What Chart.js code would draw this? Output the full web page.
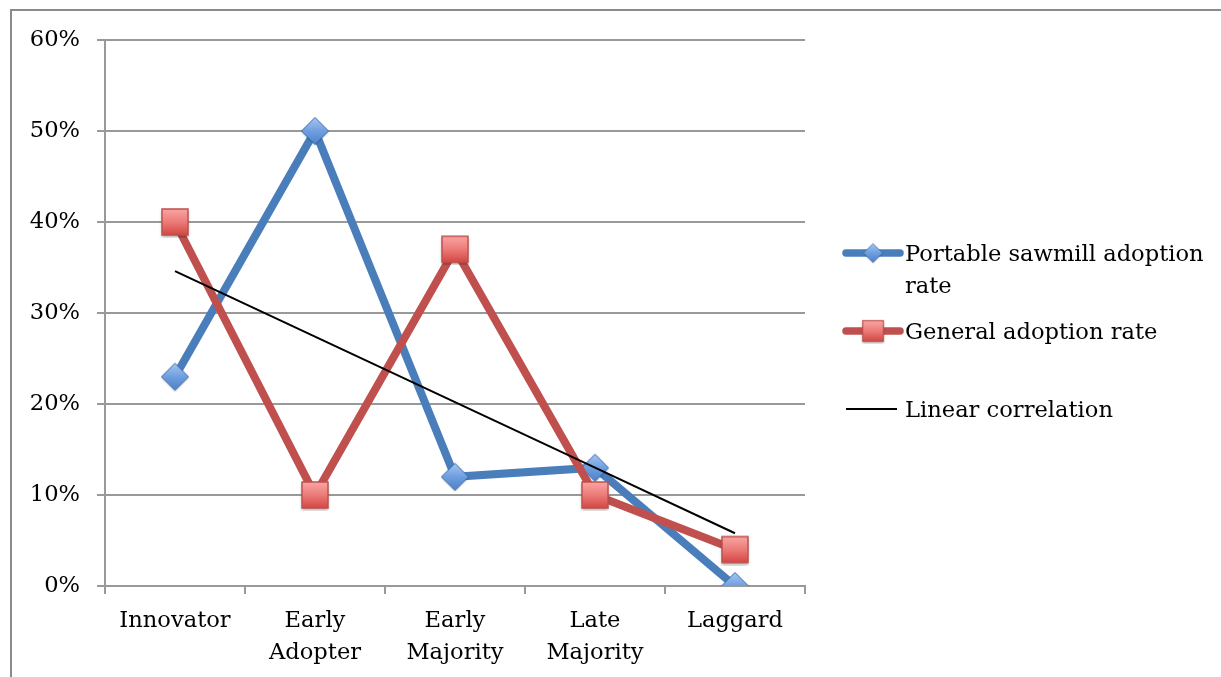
<!DOCTYPE html>
<html>
<head>
<meta charset="utf-8">
<script src="https://cdn.jsdelivr.net/npm/chart.js@4/dist/chart.umd.min.js"></script>
<style>
  html, body { margin: 0; padding: 0; background: #fff; }
  #wrap { position: relative; width: 1221px; height: 677px; overflow: hidden; }
  #frame { position: absolute; left: 10px; top: 9px; width: 1300px; height: 800px; border: 2px solid #8a8a8a; box-sizing: border-box; }
  #c { position: absolute; left: 0; top: 0; }
  #legend { position: absolute; left: 0; top: 0; font-family: "DejaVu Serif", serif; font-size: 22.6px; color: #000; }
  .li { position: absolute; left: 905px; line-height: 32px; white-space: nowrap; }
  .mk { position: absolute; }
</style>
</head>
<body>
<div id="wrap">
  <div id="frame"></div>
  <canvas id="c" width="1221" height="677"></canvas>
  <div id="legend">
    <canvas class="mk" id="mk1" width="70" height="30" style="left:838px;top:238px"></canvas>
    <div class="li" style="top:237px">Portable sawmill adoption<br>rate</div>
    <canvas class="mk" id="mk2" width="70" height="30" style="left:838px;top:316px"></canvas>
    <div class="li" style="top:315px">General adoption rate</div>
    <canvas class="mk" id="mk3" width="70" height="30" style="left:838px;top:394px"></canvas>
    <div class="li" style="top:393px">Linear correlation</div>
  </div>
</div>
<script>
const categories = [["Innovator"], ["Early", "Adopter"], ["Early", "Majority"], ["Late", "Majority"], ["Laggard"]];
const portableRate = [23, 50, 12, 13, 0];
const generalRate = [40, 10, 37, 10, 4];
const linearCorrelation = [34.6, 27.4, 20.2, 13.0, 5.8];
const yTicks = [0, 10, 20, 30, 40, 50, 60];

const BLUE = '#4a7ebb';
const RED = '#c0504d';
const GRID = '#999999';
const FONT = '"DejaVu Serif", serif';

function diamondImg() {
  const c = document.createElement('canvas');
  c.width = 30; c.height = 30;
  const g = c.getContext('2d');
  g.shadowColor = 'rgba(0,0,0,0.3)'; g.shadowBlur = 2; g.shadowOffsetY = 1;
  const gr = g.createLinearGradient(0, 2, 0, 28);
  gr.addColorStop(0, '#a3c4f0'); gr.addColorStop(0.5, '#6f9fe0'); gr.addColorStop(1, '#4f82cc');
  g.beginPath();
  g.moveTo(15, 1.5); g.lineTo(28.5, 15); g.lineTo(15, 28.5); g.lineTo(1.5, 15); g.closePath();
  g.fillStyle = gr; g.fill();
  g.shadowColor = 'transparent';
  g.lineWidth = 1; g.strokeStyle = '#3d6eb0'; g.stroke();
  return c;
}
function squareImg() {
  const c = document.createElement('canvas');
  c.width = 32; c.height = 32;
  const g = c.getContext('2d');
  g.shadowColor = 'rgba(0,0,0,0.35)'; g.shadowBlur = 3; g.shadowOffsetY = 2;
  const gr = g.createLinearGradient(0, 3, 0, 29);
  gr.addColorStop(0, '#f9a5a3'); gr.addColorStop(0.5, '#ec7b78'); gr.addColorStop(1, '#d24744');
  g.fillStyle = gr;
  g.fillRect(3, 3, 26, 26);
  g.shadowColor = 'transparent';
  g.lineWidth = 1.5; g.strokeStyle = '#c0504d'; g.strokeRect(3, 3, 26, 26);
  return c;
}
const DIA = diamondImg();
const SQ = squareImg();

function legendMarker(id, color, width, img) {
  const c = document.getElementById(id);
  const g = c.getContext('2d');
  g.lineCap = img ? 'round' : 'butt';
  g.strokeStyle = color; g.lineWidth = width;
  g.beginPath();
  if (img) { g.moveTo(8, 15); g.lineTo(62, 15); } else { g.moveTo(8, 15); g.lineTo(59, 15); }
  g.stroke();
  if (img) {
    const s = img === DIA ? 0.7 : 0.8;
    const w = img.width * s, h = img.height * s;
    g.drawImage(img, 35 - w / 2, 15 - h / 2, w, h);
  }
}
legendMarker('mk1', BLUE, 7.5, DIA);
legendMarker('mk2', RED, 7.5, SQ);
legendMarker('mk3', '#000', 2, null);

new Chart(document.getElementById('c'), {
  type: 'line',
  data: {
    labels: categories,
    datasets: [
      { label: 'Linear correlation', data: linearCorrelation, borderColor: '#000', borderWidth: 2, pointRadius: 0, fill: false, tension: 0, order: 0 },
      { label: 'General adoption rate', data: generalRate, borderColor: RED, borderWidth: 8, pointStyle: SQ, pointRadius: 15, fill: false, tension: 0, order: 1 },
      { label: 'Portable sawmill adoption rate', data: portableRate, borderColor: BLUE, borderWidth: 8, pointStyle: DIA, pointRadius: 15, fill: false, tension: 0, order: 2 }
    ]
  },
  options: {
    responsive: false,
    devicePixelRatio: 1,
    animation: false,
    events: [],
    layout: { padding: { left: 0, top: 40, right: 416, bottom: 0 } },
    plugins: { legend: { display: false }, tooltip: { enabled: false } },
    scales: {
      x: {
        offset: true,
        grid: { display: true, drawOnChartArea: false, offset: true, tickLength: 8, color: GRID, lineWidth: 2 },
        border: { display: true, color: GRID, width: 2 },
        ticks: { color: '#000', font: { family: FONT, size: 22.6, lineHeight: 1.42 }, padding: 11, maxRotation: 0, autoSkip: false },
        afterFit: (s) => { s.height = 91; }
      },
      y: {
        min: 0, max: 60,
        afterBuildTicks: (s) => { s.ticks = yTicks.map(v => ({ value: v })); },
        grid: { color: GRID, lineWidth: 2, tickLength: 8 },
        border: { display: true, color: GRID, width: 2 },
        ticks: { color: '#000', font: { family: FONT, size: 22.6 }, padding: 17, callback: (v) => v + '%' },
        afterFit: (s) => { s.width = 105; }
      }
    }
  }
});
</script>
</body>
</html>
